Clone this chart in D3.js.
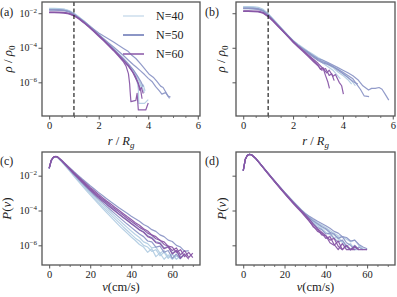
<!DOCTYPE html>
<html>
<head>
<meta charset="utf-8">
<script src="https://cdn.jsdelivr.net/npm/d3@7"></script>
<style>
  body { margin: 0; background: #fff; }
  svg { display: block; }
  text { font-family: "Liberation Serif", "DejaVu Serif", serif; fill: #222; }
</style>
</head>
<body>
<svg id="fig" width="397" height="297"></svg>
<script>
// ---- data (log10 values) ----
const groups = ['N=40', 'N=50', 'N=60'];
const groupColors = ['#b3cde3', '#8c96c6', '#8856a7'];

// (a) density profiles: [r/Rg, log10(rho/rho0)]
const aN40 = [
  [[0,-1.75],[0.2,-1.75],[0.4,-1.76],[0.6,-1.78],[0.8,-1.86],[1,-2.02],[1.2,-2.23],[1.4,-2.46],[1.6,-2.71],[1.8,-2.97],[2,-3.24],[2.2,-3.51],[2.4,-3.79],[2.6,-4.08],[2.8,-4.38],[3,-4.7],[3.2,-5.03],[3.4,-5.45],[3.55,-5.95],[3.6,-6.4],[3.62,-7.22],[3.85,-7.22],[4.0,-7.0]],
  [[0,-1.77],[0.2,-1.77],[0.4,-1.78],[0.6,-1.8],[0.8,-1.88],[1,-2.05],[1.2,-2.26],[1.4,-2.5],[1.6,-2.75],[1.8,-3.01],[2,-3.28],[2.2,-3.55],[2.4,-3.83],[2.6,-4.12],[2.8,-4.4],[3,-4.7],[3.2,-5.0],[3.4,-5.3],[3.5,-5.55],[3.6,-5.8],[3.7,-6.1],[3.8,-6.45],[3.85,-6.6]],
  [[0,-1.72],[0.2,-1.72],[0.4,-1.73],[0.6,-1.76],[0.8,-1.84],[1,-2.0],[1.2,-2.21],[1.4,-2.44],[1.6,-2.69],[1.8,-2.95],[2,-3.22],[2.2,-3.5],[2.4,-3.78],[2.6,-4.07],[2.8,-4.37],[3,-4.68],[3.2,-5.0],[3.4,-5.35],[3.55,-5.7],[3.65,-6.0],[3.72,-6.3],[3.8,-6.15],[3.87,-6.5]]
];
const aN50 = [
  [[0,-1.8],[0.2,-1.8],[0.4,-1.81],[0.6,-1.83],[0.8,-1.9],[1,-2.06],[1.2,-2.26],[1.4,-2.47],[1.6,-2.69],[1.8,-2.92],[2,-3.14],[2.2,-3.32],[2.4,-3.49],[2.6,-3.67],[2.8,-3.86],[3,-4.04],[3.2,-4.22],[3.35,-4.45],[3.5,-4.62],[3.7,-4.95],[3.9,-5.3],[4.05,-5.55],[4.2,-5.7],[4.35,-5.95],[4.5,-6.22],[4.6,-6.3],[4.7,-6.55],[4.78,-6.75],[4.86,-6.93]],
  [[0,-1.8],[0.2,-1.8],[0.4,-1.81],[0.6,-1.83],[0.8,-1.9],[1,-2.06],[1.2,-2.27],[1.4,-2.5],[1.6,-2.74],[1.8,-2.99],[2,-3.24],[2.2,-3.48],[2.4,-3.72],[2.6,-3.96],[2.8,-4.2],[3,-4.45],[3.2,-4.72],[3.4,-4.98],[3.5,-5.1],[3.7,-5.35],[3.85,-5.55],[4,-5.77],[4.15,-5.95],[4.3,-6.25],[4.45,-6.5],[4.55,-6.68],[4.7,-6.6],[4.8,-6.8],[4.9,-6.85]],
  [[0,-1.82],[0.2,-1.82],[0.4,-1.83],[0.6,-1.85],[0.8,-1.92],[1,-2.08],[1.2,-2.28],[1.4,-2.51],[1.6,-2.75],[1.8,-3.0],[2,-3.26],[2.2,-3.52],[2.4,-3.79],[2.6,-4.06],[2.8,-4.34],[3,-4.62],[3.2,-4.93],[3.4,-5.28],[3.55,-5.6],[3.7,-5.95],[3.8,-6.25]]
];
const aN60 = [
  [[0,-1.97],[0.2,-1.97],[0.4,-1.97],[0.6,-1.99],[0.8,-2.04],[1,-2.15],[1.2,-2.34],[1.4,-2.56],[1.6,-2.8],[1.8,-3.06],[2,-3.33],[2.2,-3.6],[2.4,-3.88],[2.6,-4.17],[2.8,-4.48],[3,-4.82],[3.1,-5.05],[3.2,-5.5],[3.25,-6.1],[3.27,-6.55],[3.3,-7.12],[3.5,-7.05],[3.55,-6.64],[3.6,-7.6],[3.9,-7.6],[4.0,-7.2]],
  [[0,-1.95],[0.2,-1.95],[0.4,-1.96],[0.6,-1.97],[0.8,-2.02],[1,-2.13],[1.2,-2.31],[1.4,-2.53],[1.6,-2.77],[1.8,-3.03],[2,-3.3],[2.2,-3.57],[2.4,-3.85],[2.6,-4.14],[2.8,-4.44],[3,-4.75],[3.2,-5.08],[3.4,-5.45],[3.5,-5.7],[3.6,-6.05],[3.7,-6.5],[3.75,-6.95]],
  [[0,-1.93],[0.2,-1.93],[0.4,-1.94],[0.6,-1.95],[0.8,-2.0],[1,-2.12],[1.2,-2.3],[1.4,-2.52],[1.6,-2.76],[1.8,-3.01],[2,-3.28],[2.2,-3.55],[2.4,-3.83],[2.6,-4.12],[2.8,-4.42],[3,-4.72],[3.2,-5.02],[3.35,-5.35],[3.5,-5.8],[3.6,-6.1],[3.65,-6.45],[3.72,-6.3],[3.8,-6.65]]
];

// (b) density profiles
const bN40 = [
  [[0,-1.62],[0.2,-1.62],[0.4,-1.63],[0.6,-1.66],[0.8,-1.78],[1,-2.02],[1.2,-2.33],[1.4,-2.65],[1.6,-2.97],[1.8,-3.28],[2,-3.58],[2.2,-3.82],[2.4,-4.03],[2.6,-4.23],[2.8,-4.43],[3,-4.63],[3.2,-4.8],[3.4,-4.98],[3.6,-5.15],[3.8,-5.4],[4,-5.6],[4.2,-5.85],[4.35,-6.1]],
  [[0,-1.64],[0.2,-1.64],[0.4,-1.65],[0.6,-1.68],[0.8,-1.8],[1,-2.05],[1.2,-2.36],[1.4,-2.68],[1.6,-3.0],[1.8,-3.31],[2,-3.6],[2.2,-3.85],[2.4,-4.07],[2.6,-4.28],[2.8,-4.5],[3,-4.7],[3.2,-4.9],[3.4,-5.1],[3.6,-5.3],[3.75,-5.55],[3.9,-5.8]],
  [[0,-1.66],[0.2,-1.66],[0.4,-1.67],[0.6,-1.7],[0.8,-1.82],[1,-2.06],[1.2,-2.37],[1.4,-2.69],[1.6,-3.0],[1.8,-3.3],[2,-3.58],[2.2,-3.8],[2.4,-4.0],[2.6,-4.2],[2.8,-4.38],[3,-4.56],[3.2,-4.72],[3.4,-4.88],[3.6,-5.05],[3.8,-5.25],[4,-5.45],[4.2,-5.7],[4.35,-5.9],[4.5,-6.2]]
];
const bN50 = [
  [[0,-1.7],[0.2,-1.7],[0.4,-1.71],[0.6,-1.74],[0.8,-1.85],[1,-2.08],[1.2,-2.38],[1.4,-2.69],[1.6,-3.0],[1.8,-3.3],[2,-3.6],[2.2,-3.85],[2.4,-4.06],[2.6,-4.25],[2.8,-4.45],[3,-4.62],[3.2,-4.72],[3.4,-4.85],[3.6,-5.0],[3.8,-5.15],[4,-5.3],[4.2,-5.45],[4.4,-5.62],[4.6,-5.85],[4.8,-6.2],[5.03,-6.45],[5.15,-6.35],[5.3,-6.35],[5.45,-6.3],[5.57,-6.4],[5.7,-6.7],[5.84,-7.03]],
  [[0,-1.72],[0.2,-1.72],[0.4,-1.73],[0.6,-1.76],[0.8,-1.87],[1,-2.09],[1.2,-2.39],[1.4,-2.7],[1.6,-3.01],[1.8,-3.31],[2,-3.61],[2.2,-3.86],[2.4,-4.08],[2.6,-4.3],[2.8,-4.52],[3,-4.74],[3.2,-4.88],[3.4,-4.96],[3.6,-5.1],[3.8,-5.25],[4,-5.42],[4.2,-5.6],[4.4,-5.8],[4.55,-6.1],[4.7,-6.4],[4.85,-6.78],[5.05,-6.83]],
  [[0,-1.74],[0.2,-1.74],[0.4,-1.75],[0.6,-1.78],[0.8,-1.88],[1,-2.1],[1.2,-2.4],[1.4,-2.71],[1.6,-3.02],[1.8,-3.32],[2,-3.62],[2.2,-3.88],[2.4,-4.1],[2.6,-4.3],[2.8,-4.5],[3,-4.68],[3.2,-4.82],[3.4,-4.92],[3.6,-5.08],[3.8,-5.3],[4,-5.5],[4.2,-5.72],[4.4,-5.95],[4.6,-6.1]]
];
const bN60 = [
  [[0,-1.88],[0.2,-1.88],[0.4,-1.89],[0.6,-1.9],[0.8,-1.98],[1,-2.18],[1.2,-2.45],[1.4,-2.75],[1.6,-3.05],[1.8,-3.35],[2,-3.65],[2.2,-3.92],[2.4,-4.18],[2.6,-4.45],[2.8,-4.72],[3,-5.0],[3.1,-5.25],[3.2,-5.15],[3.3,-5.6],[3.4,-6.0],[3.46,-6.35]],
  [[0,-1.86],[0.2,-1.86],[0.4,-1.87],[0.6,-1.88],[0.8,-1.96],[1,-2.16],[1.2,-2.43],[1.4,-2.73],[1.6,-3.03],[1.8,-3.33],[2,-3.63],[2.2,-3.9],[2.4,-4.15],[2.6,-4.4],[2.8,-4.65],[3,-4.9],[3.2,-5.2],[3.35,-5.45],[3.45,-5.3],[3.6,-5.65],[3.7,-5.55],[3.85,-6.0],[3.95,-6.2],[4.02,-6.68]],
  [[0,-1.9],[0.2,-1.9],[0.4,-1.91],[0.6,-1.92],[0.8,-2.0],[1,-2.2],[1.2,-2.47],[1.4,-2.77],[1.6,-3.07],[1.8,-3.37],[2,-3.68],[2.2,-3.96],[2.4,-4.22],[2.6,-4.5],[2.8,-4.78],[3,-5.05],[3.15,-5.3],[3.3,-5.2],[3.45,-5.6],[3.55,-5.5],[3.65,-5.9]]
];

// (c), (d) speed distributions: log10 P(v) on a shared v grid (cm/s)
const vGrid = [0,1,2,3,4,6,8,10,12,14,16,18,20,22,24,26,28,30,32,34,36,38,40,42,44,46,48,50,52,54,56,58,60,62,64,66,68,70];

const cN40 = [
  [-1.56,-1.12,-0.95,-0.91,-0.94,-1.17,-1.43,-1.7,-1.97,-2.24,-2.5,-2.76,-3.02,-3.27,-3.52,-3.76,-4.0,-4.24,-4.47,-4.7,-4.93,-5.15,-5.37,-5.59,-5.75,-6.0,-6.1,-6.35,-6.25,-6.6,-6.4,-6.75,-6.5,-6.8],
  [-1.6,-1.14,-0.96,-0.91,-0.94,-1.16,-1.42,-1.68,-1.94,-2.2,-2.45,-2.7,-2.94,-3.18,-3.42,-3.65,-3.88,-4.1,-4.32,-4.54,-4.76,-4.97,-5.18,-5.38,-5.55,-5.8,-5.9,-6.15,-6.1,-6.45,-6.3,-6.7,-6.5,-6.8,-6.6],
  [-1.58,-1.13,-0.95,-0.91,-0.95,-1.19,-1.46,-1.74,-2.02,-2.3,-2.57,-2.84,-3.1,-3.36,-3.62,-3.87,-4.12,-4.37,-4.61,-4.85,-5.08,-5.3,-5.52,-5.72,-5.95,-6.1,-6.4,-6.2,-6.65,-6.45,-6.8,-6.55,-6.8,-6.6,-6.75,-6.5]
];
const cN50 = [
  [-1.6,-1.15,-0.96,-0.9,-0.92,-1.1,-1.32,-1.54,-1.76,-1.97,-2.18,-2.38,-2.58,-2.77,-2.96,-3.14,-3.32,-3.5,-3.67,-3.84,-4.0,-4.16,-4.33,-4.47,-4.62,-4.8,-4.92,-5.1,-5.2,-5.4,-5.5,-5.7,-5.78,-6.0,-6.1,-6.35,-6.3],
  [-1.57,-1.13,-0.95,-0.9,-0.92,-1.13,-1.37,-1.62,-1.86,-2.1,-2.33,-2.56,-2.78,-3.0,-3.2,-3.4,-3.6,-3.8,-3.99,-4.18,-4.37,-4.55,-4.73,-4.9,-5.1,-5.22,-5.45,-5.55,-5.8,-5.85,-6.15,-6.05,-6.45,-6.3,-6.7,-6.5],
  [-1.59,-1.14,-0.95,-0.9,-0.93,-1.15,-1.4,-1.66,-1.92,-2.17,-2.41,-2.65,-2.88,-3.11,-3.33,-3.55,-3.76,-3.97,-4.18,-4.38,-4.58,-4.78,-4.97,-5.16,-5.35,-5.5,-5.75,-5.8,-6.1,-6.05,-6.4,-6.3,-6.75,-6.5,-6.8]
];
const cN60 = [
  [-1.56,-1.12,-0.94,-0.89,-0.91,-1.12,-1.36,-1.6,-1.84,-2.07,-2.3,-2.52,-2.74,-2.95,-3.15,-3.34,-3.53,-3.72,-3.9,-4.08,-4.26,-4.44,-4.62,-4.79,-4.97,-5.1,-5.3,-5.42,-5.62,-5.7,-5.95,-6.05,-6.3,-6.15,-6.55,-6.3,-6.7,-6.45],
  [-1.58,-1.13,-0.95,-0.9,-0.92,-1.12,-1.35,-1.58,-1.81,-2.03,-2.25,-2.46,-2.67,-2.87,-3.07,-3.26,-3.45,-3.63,-3.81,-3.99,-4.17,-4.35,-4.52,-4.7,-4.85,-5.05,-5.18,-5.4,-5.5,-5.72,-5.8,-6.05,-6.1,-6.4,-6.25,-6.65,-6.4,-6.7],
  [-1.55,-1.11,-0.94,-0.9,-0.92,-1.14,-1.39,-1.64,-1.89,-2.13,-2.37,-2.6,-2.82,-3.04,-3.25,-3.45,-3.65,-3.84,-4.03,-4.22,-4.4,-4.58,-4.76,-4.94,-5.12,-5.25,-5.5,-5.6,-5.85,-5.9,-6.2,-6.1,-6.5,-6.3,-6.75,-6.5,-6.8]
];

const dN40 = [
  [-1.7,-1.05,-0.82,-0.77,-0.79,-0.99,-1.27,-1.56,-1.84,-2.12,-2.4,-2.67,-2.94,-3.2,-3.45,-3.7,-3.94,-4.16,-4.36,-4.54,-4.7,-4.84,-4.98,-5.15,-5.3,-5.45,-5.5,-5.65,-5.8,-5.7,-6.0,-6.2,-6.25],
  [-1.71,-1.06,-0.83,-0.77,-0.8,-1.0,-1.28,-1.57,-1.86,-2.14,-2.42,-2.7,-2.97,-3.23,-3.49,-3.74,-3.98,-4.21,-4.42,-4.62,-4.8,-4.96,-5.1,-5.3,-5.4,-5.65,-5.75,-6.05,-5.9,-6.25,-6.25],
  [-1.72,-1.06,-0.83,-0.78,-0.8,-1.0,-1.29,-1.58,-1.87,-2.15,-2.43,-2.71,-2.99,-3.26,-3.52,-3.77,-4.01,-4.25,-4.47,-4.68,-4.88,-5.05,-5.25,-5.4,-5.6,-5.5,-5.85,-6.1,-6.25,-6.0,-6.25]
];
const dN50 = [
  [-1.72,-1.06,-0.83,-0.77,-0.79,-0.99,-1.28,-1.57,-1.85,-2.13,-2.41,-2.68,-2.95,-3.21,-3.46,-3.71,-3.95,-4.17,-4.33,-4.48,-4.62,-4.75,-4.88,-5.02,-5.2,-5.3,-5.5,-5.55,-5.75,-5.7,-5.95,-6.1,-6.2],
  [-1.71,-1.07,-0.84,-0.78,-0.8,-1.0,-1.29,-1.58,-1.87,-2.15,-2.43,-2.71,-2.98,-3.24,-3.5,-3.75,-3.99,-4.22,-4.42,-4.6,-4.76,-4.92,-5.05,-5.25,-5.35,-5.6,-5.5,-5.85,-6.0,-6.25,-6.1,-6.25],
  [-1.72,-1.06,-0.83,-0.78,-0.8,-1.01,-1.3,-1.59,-1.88,-2.17,-2.45,-2.73,-3.0,-3.27,-3.53,-3.78,-4.03,-4.27,-4.5,-4.75,-4.98,-5.1,-5.35,-5.3,-5.6,-5.8,-5.7,-6.05,-6.25,-6.0,-6.25]
];
const dN60 = [
  [-1.71,-1.06,-0.83,-0.77,-0.8,-1.0,-1.29,-1.58,-1.87,-2.16,-2.44,-2.72,-3.0,-3.27,-3.53,-3.79,-4.04,-4.3,-4.6,-4.95,-5.1,-5.4,-5.45,-5.85,-6.0,-5.75,-6.25,-6.0,-6.25,-6.1,-6.25,-6.25,-6.25],
  [-1.73,-1.07,-0.84,-0.78,-0.8,-1.01,-1.3,-1.6,-1.89,-2.18,-2.47,-2.75,-3.03,-3.3,-3.57,-3.83,-4.08,-4.35,-4.62,-4.9,-5.2,-5.3,-5.6,-5.5,-5.95,-6.25,-5.9,-6.25,-6.25,-6.05,-6.25],
  [-1.7,-1.06,-0.83,-0.78,-0.8,-1.0,-1.28,-1.57,-1.86,-2.14,-2.42,-2.7,-2.97,-3.24,-3.5,-3.76,-4.0,-4.24,-4.5,-4.8,-5.05,-5.25,-5.45,-5.7,-5.6,-6.05,-6.25,-6.0,-6.25,-6.25]
];

const rTicks = [0, 2, 4, 6];
const vTicks = [0, 20, 40, 60];
const logTicks = [1e-2, 1e-4, 1e-6];

// ---- drawing ----
const svg = d3.select('#fig');
const spineColor = '#555';

function onGrid(curves) {
    return curves.map(vals => vals.map((L, i) => [vGrid[i], L]));
}

function drawPanel(opt) {
    const x = d3.scaleLinear().domain(opt.xDomain).range([opt.left, opt.right]);
    const y = d3.scaleLog().domain(opt.yDomain).range([opt.bottom, opt.top]);
    const g = svg.append('g');

    // minor x ticks
    g.append('g')
        .attr('transform', `translate(0,${opt.bottom})`)
        .call(d3.axisBottom(x).tickValues(opt.xMinor).tickSize(2).tickFormat(''))
        .call(s => s.select('.domain').remove())
        .call(s => s.selectAll('line').attr('stroke', spineColor).attr('stroke-width', 0.8));

    // major x ticks
    g.append('g')
        .attr('transform', `translate(0,${opt.bottom})`)
        .call(d3.axisBottom(x).tickValues(opt.xTicks).tickSize(3.5).tickPadding(2.5).tickFormat(d3.format('d')))
        .call(s => s.select('.domain').remove())
        .call(s => s.selectAll('line').attr('stroke', spineColor).attr('stroke-width', 1))
        .call(s => s.selectAll('text').attr('font-size', 10.5).attr('fill', '#222')
            .style('font-family', '"Liberation Serif", serif'));

    // y ticks (10^n labels)
    const ya = g.append('g')
        .attr('transform', `translate(${opt.left},0)`)
        .call(d3.axisLeft(y).tickValues(logTicks).tickSize(3.5).tickFormat(''))
        .call(s => s.select('.domain').remove())
        .call(s => s.selectAll('line').attr('stroke', spineColor).attr('stroke-width', 1));
    if (opt.yLabels) {
        ya.selectAll('.tick').append('text')
            .attr('x', -5).attr('dy', '0.32em')
            .attr('text-anchor', 'end')
            .attr('font-size', 10)
            .attr('fill', '#222')
            .style('font-family', '"Liberation Serif", serif')
            .each(function (d) {
                const t = d3.select(this);
                t.append('tspan').text('10');
                t.append('tspan').attr('dy', -4).attr('font-size', 7)
                    .text('\u2212' + Math.round(-Math.log10(d)));
            });
    }

    // curves
    const clipId = 'clip-' + opt.letter;
    g.append('clipPath').attr('id', clipId)
        .append('rect')
        .attr('x', opt.left).attr('y', opt.top)
        .attr('width', opt.right - opt.left).attr('height', opt.bottom - opt.top);
    const line = d3.line().x(d => x(d[0])).y(d => y(Math.pow(10, d[1])));
    const lines = g.append('g').attr('clip-path', `url(#${clipId})`);
    opt.sets.forEach((curves, k) => {
        curves.forEach(pts => {
            lines.append('path')
                .attr('d', line(pts))
                .attr('fill', 'none')
                .attr('stroke', groupColors[k])
                .attr('stroke-width', 1.2)
                .attr('stroke-opacity', 0.95)
                .attr('stroke-linejoin', 'round');
        });
    });

    if (opt.dashed) {
        g.append('line')
            .attr('x1', x(1)).attr('x2', x(1))
            .attr('y1', opt.top).attr('y2', opt.bottom)
            .attr('stroke', '#222').attr('stroke-width', 1.2)
            .attr('stroke-dasharray', '4,2.5');
    }

    // frame
    g.append('rect')
        .attr('x', opt.left).attr('y', opt.top)
        .attr('width', opt.right - opt.left).attr('height', opt.bottom - opt.top)
        .attr('fill', 'none').attr('stroke', spineColor).attr('stroke-width', 1.3);

    // panel letter
    svg.append('text')
        .attr('x', opt.letterX).attr('y', opt.letterY)
        .attr('font-size', 12)
        .text(`(${opt.letter})`);

    // x label
    const xl = svg.append('text')
        .attr('x', (opt.left + opt.right) / 2).attr('y', opt.bottom + opt.xLabelDy)
        .attr('text-anchor', 'middle').attr('font-size', 12.5);
    opt.xLabel(xl);

    // y label
    const yl = svg.append('text')
        .attr('transform', `translate(${opt.yLabelX},${(opt.top + opt.bottom) / 2}) rotate(-90)`)
        .attr('text-anchor', 'middle').attr('font-size', 13);
    opt.yLabel(yl);
}

function rLabel(t) {
    t.append('tspan').attr('font-style', 'italic').text('r');
    t.append('tspan').text(' / ');
    t.append('tspan').attr('font-style', 'italic').text('R');
    t.append('tspan').attr('font-style', 'italic').attr('font-size', 9).attr('dy', 3).text('g');
}
function rhoLabel(t) {
    t.append('tspan').attr('font-style', 'italic').text('\u03c1');
    t.append('tspan').text(' / ');
    t.append('tspan').attr('font-style', 'italic').text('\u03c1');
    t.append('tspan').attr('font-size', 9).attr('dy', 3).text('0');
}
function vLabel(t) {
    t.append('tspan').attr('font-style', 'italic').text('v');
    t.append('tspan').text('(cm/s)');
}
function pLabel(t) {
    t.append('tspan').attr('font-style', 'italic').text('P');
    t.append('tspan').text('(');
    t.append('tspan').attr('font-style', 'italic').text('v');
    t.append('tspan').text(')');
}

const rDomain = [-0.29, 6.09];
const vDomain = [-3.5, 73.5];
const rhoDomain = [Math.pow(10, -7.95), Math.pow(10, -1.35)];
const pDomain = [Math.pow(10, -7.13), Math.pow(10, -0.64)];
const rMinor = d3.range(0.5, 6.01, 0.5).filter(v => v % 2 !== 0);
const vMinor = d3.range(5, 71, 5).filter(v => v % 20 !== 0);

drawPanel({ letter: 'a', left: 42, right: 200, top: 2, bottom: 116,
    xDomain: rDomain, yDomain: rhoDomain, xTicks: rTicks, xMinor: rMinor,
    yLabels: true, dashed: true, sets: [aN40, aN50, aN60], xLabelDy: 29,
    letterX: 0, letterY: 16, yLabelX: 12, xLabel: rLabel, yLabel: rhoLabel });
drawPanel({ letter: 'b', left: 236, right: 395, top: 2, bottom: 116,
    xDomain: rDomain, yDomain: rhoDomain, xTicks: rTicks, xMinor: rMinor,
    yLabels: false, dashed: true, sets: [bN40, bN50, bN60], xLabelDy: 29,
    letterX: 205, letterY: 16, yLabelX: 225, xLabel: rLabel, yLabel: rhoLabel });
drawPanel({ letter: 'c', left: 42, right: 200, top: 152, bottom: 265,
    xDomain: vDomain, yDomain: pDomain, xTicks: vTicks, xMinor: vMinor,
    yLabels: true, dashed: false, sets: [onGrid(cN40), onGrid(cN50), onGrid(cN60)], xLabelDy: 26,
    letterX: 0, letterY: 165, yLabelX: 11, xLabel: vLabel, yLabel: pLabel });
drawPanel({ letter: 'd', left: 236, right: 395, top: 152, bottom: 265,
    xDomain: vDomain, yDomain: pDomain, xTicks: vTicks, xMinor: vMinor,
    yLabels: false, dashed: false, sets: [onGrid(dN40), onGrid(dN50), onGrid(dN60)], xLabelDy: 26,
    letterX: 205, letterY: 165, yLabelX: 226, xLabel: vLabel, yLabel: pLabel });

// legend in panel (a)
const legendWidths = [1, 2, 1.5];
const legend = svg.append('g');
groups.forEach((name, i) => {
    const yy = 16 + i * 19;
    legend.append('line')
        .attr('x1', 123).attr('x2', 144).attr('y1', yy).attr('y2', yy)
        .attr('stroke', groupColors[i]).attr('stroke-width', legendWidths[i]);
    legend.append('text')
        .attr('x', 156).attr('y', yy).attr('dy', '0.35em')
        .attr('font-size', 12)
        .text(name);
});
</script>
</body>
</html>
